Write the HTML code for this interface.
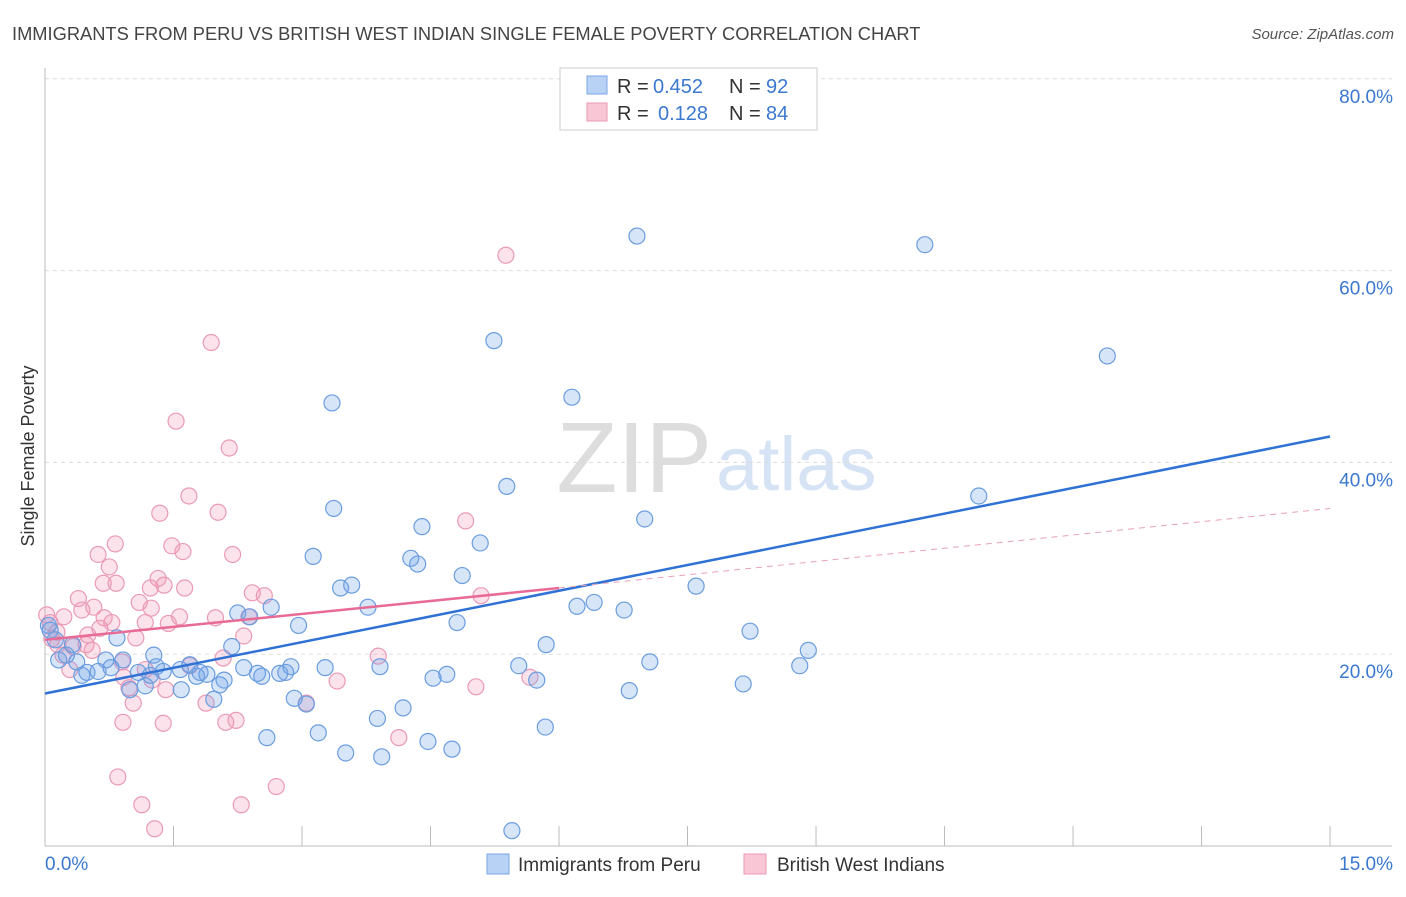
<!DOCTYPE html>
<html><head><meta charset="utf-8">
<style>
body{margin:0;background:#fff;font-family:"Liberation Sans",sans-serif;}
svg text{font-family:"Liberation Sans",sans-serif;}
</style></head>
<body>
<svg width="1406" height="892" xmlns="http://www.w3.org/2000/svg" id="chart">
<text x="12" y="40" font-size="18.3" fill="#444">IMMIGRANTS FROM PERU VS BRITISH WEST INDIAN SINGLE FEMALE POVERTY CORRELATION CHART</text>
<text x="1394" y="39" font-size="15" fill="#555" text-anchor="end" font-style="italic">Source: ZipAtlas.com</text>
<text x="712" y="492" font-size="100" text-anchor="end" fill="#ddd" font-family="Liberation Serif">ZIP</text>
<text x="716" y="490" font-size="76" fill="#d5e3f5">atlas</text>
<g id="grid"></g>
<g id="axes"></g>
<g id="pts"></g>
<g id="lines"></g>
<text transform="translate(34,456) rotate(-90)" font-size="18" fill="#333" text-anchor="middle">Single Female Poverty</text>
<g>
<rect x="560" y="68" width="257" height="62" fill="#fff" stroke="#ccc"/>
<rect x="587" y="76" width="20" height="18" fill="#b8d2f5" stroke="#7aa6e4"/>
<rect x="587" y="103" width="20" height="18" fill="#f9c6d6" stroke="#ec9ab6"/>
<text x="617" y="93" font-size="20" fill="#333">R =</text>
<text x="653" y="93" font-size="20" fill="#3b78d0">0.452</text>
<text x="729" y="93" font-size="20" fill="#333">N =</text>
<text x="766" y="93" font-size="20" fill="#3b78d0">92</text>
<text x="617" y="120" font-size="20" fill="#333">R =</text>
<text x="658" y="120" font-size="20" fill="#3b78d0">0.128</text>
<text x="729" y="120" font-size="20" fill="#333">N =</text>
<text x="766" y="120" font-size="20" fill="#3b78d0">84</text>
</g>
<g>
<rect x="487" y="854" width="22" height="20" fill="#b8d2f5" stroke="#7aa6e4"/>
<text x="518" y="871" font-size="19" fill="#333">Immigrants from Peru</text>
<rect x="744" y="854" width="22" height="20" fill="#f9c6d6" stroke="#ec9ab6"/>
<text x="777" y="871" font-size="19" fill="#333">British West Indians</text>
</g>
</svg>
<script>
const blueX=[6.91,10.27,5.24,12.40,6.15,3.35,5.39,10.90,3.37,7.00,4.40,5.08,3.13,4.27,4.35,4.87,3.58,3.45,7.60,6.41,6.21,6.76,3.77,2.64,2.25,2.39,2.96,4.81,0.84,2.18,5.85,8.23,8.91,1.27,7.06,8.81,5.53,0.16,0.37,0.71,0.91,0.49,0.62,0.77,1.09,1.30,1.38,1.58,1.69,1.77,1.89,2.09,2.04,2.32,2.48,2.53,2.74,2.81,2.87,3.27,3.91,4.53,4.69,5.74,6.82,8.15,0.99,1.17,1.59,1.97,2.91,3.05,3.88,4.18,3.19,2.59,3.51,3.93,4.47,4.75,5.84,5.45,0.06,0.12,0.04,0.43,0.25,0.32,1.23,1.81];
const blueY=[63.6,62.7,52.7,51.1,46.8,46.2,37.5,36.5,35.2,34.1,33.3,31.6,30.2,30.0,29.4,28.2,27.2,26.9,27.1,25.4,25.0,24.6,24.9,24.9,24.3,23.9,23.0,23.3,21.7,20.8,21.0,22.4,20.4,19.9,19.2,18.8,18.8,19.4,19.2,19.4,19.4,18.1,18.2,18.6,18.1,18.7,18.2,18.4,18.9,17.7,17.9,17.3,16.8,18.6,18.0,17.7,18.0,18.1,18.7,18.6,18.7,17.5,17.9,17.3,16.2,16.9,16.3,16.7,16.3,15.3,15.4,14.8,13.3,14.4,11.8,11.3,9.7,9.3,10.9,10.1,12.4,1.6,22.5,21.5,23.0,17.8,19.9,21.0,17.8,18.1];
const pinkX=[5.38,1.94,1.53,2.15,1.68,2.02,1.34,4.91,0.82,1.48,1.61,2.19,0.62,0.75,1.32,0.83,0.68,1.39,1.23,1.63,2.42,2.56,5.09,0.39,1.10,0.57,1.24,0.43,0.22,1.57,0.69,1.99,2.38,0.78,1.17,1.44,0.64,0.14,0.50,2.32,1.06,0.08,0.48,0.33,0.55,0.21,3.89,2.08,0.90,1.69,1.17,0.29,0.92,1.25,3.41,5.66,5.03,0.98,1.41,1.88,3.05,1.03,0.91,1.38,2.11,2.23,4.13,0.85,2.70,1.13,2.29,1.28,0.02,0.06,0.15];
const pinkY=[61.6,52.5,44.3,41.5,36.5,34.8,34.7,33.9,31.5,31.3,30.7,30.4,30.4,29.1,27.9,27.4,27.4,27.2,26.9,26.9,26.4,26.1,26.1,25.8,25.4,24.9,24.8,24.6,23.9,23.9,23.8,23.8,23.9,23.3,23.3,23.2,22.7,22.3,22.0,21.9,21.7,21.6,21.0,20.8,20.4,19.9,19.8,19.6,19.2,18.8,18.4,18.4,17.6,17.3,17.2,17.6,16.6,16.5,16.3,14.9,14.9,14.9,12.9,12.8,12.9,13.1,11.3,7.2,6.2,4.3,4.3,1.8,24.1,23.3,21.0];
const yTicks=[20,40,60,80];
const xTickVals=[0,1.5,3,4.5,6,7.5,9,10.5,12,13.5,15];
const blueTrend=[[0,15.9],[15,42.7]];
const pinkTrend=[[0,21.5],[6,26.9]];
const pinkDash=[[6,26.9],[15,35.2]];
const X=v=>45+v*85.67, Y=v=>846-v*9.59;
const NS="http://www.w3.org/2000/svg";
function mk(tag,attrs,parent){const e=document.createElementNS(NS,tag);for(const k in attrs)e.setAttribute(k,attrs[k]);document.getElementById(parent).appendChild(e);return e;}
yTicks.forEach(t=>{
 const l=mk('line',{x1:45,x2:1392,y1:Y(t),y2:Y(t),stroke:'#ddd','stroke-dasharray':'4,4'},'grid');
 
 
 const tx=mk('text',{x:1393,y:Y(t)+24,'font-size':19,fill:'#3b78d0','text-anchor':'end'},'grid');
 tx.textContent=t.toFixed(1)+'%';
 
 
});
mk('line',{x1:45,x2:45,y1:68,y2:846,stroke:'#bbb'},'axes');
mk('line',{x1:45,x2:1392,y1:846,y2:846,stroke:'#bbb'},'axes');
xTickVals.forEach(t=>{
 const l=mk('line',{x1:X(t),x2:X(t),y1:826,y2:846,stroke:'#bbb'},'axes');
 
 
});
const x0=mk('text',{x:45,y:870,'font-size':19,fill:'#3b78d0'},'axes');x0.textContent='0.0%';


const x1=mk('text',{x:1393,y:870,'font-size':19,fill:'#3b78d0','text-anchor':'end'},'axes');x1.textContent='15.0%';


pinkX.forEach((v,i)=>{
 const c=mk('circle',{cx:X(v),cy:Y(pinkY[i]),r:8,fill:'rgba(242,150,182,0.28)',stroke:'#ea9ab6','stroke-width':1.2},'pts');
 
 
});
blueX.forEach((v,i)=>{
 const c=mk('circle',{cx:X(v),cy:Y(blueY[i]),r:8,fill:'rgba(110,160,230,0.28)',stroke:'#6a9de0','stroke-width':1.2},'pts');
 
 
});
let l1=mk('line',{x1:X(blueTrend[0][0]),y1:Y(blueTrend[0][1]),x2:X(blueTrend[1][0]),y2:Y(blueTrend[1][1]),stroke:'#2f72d4','stroke-width':2.5},'lines');


let l2=mk('line',{x1:X(pinkTrend[0][0]),y1:Y(pinkTrend[0][1]),x2:X(pinkTrend[1][0]),y2:Y(pinkTrend[1][1]),stroke:'#e86a96','stroke-width':2.5},'lines');


let l3=mk('line',{x1:X(pinkDash[0][0]),y1:Y(pinkDash[0][1]),x2:X(pinkDash[1][0]),y2:Y(pinkDash[1][1]),stroke:'#e8a0ba','stroke-width':1,'stroke-dasharray':'6,5'},'lines');


</script>
</body></html>
